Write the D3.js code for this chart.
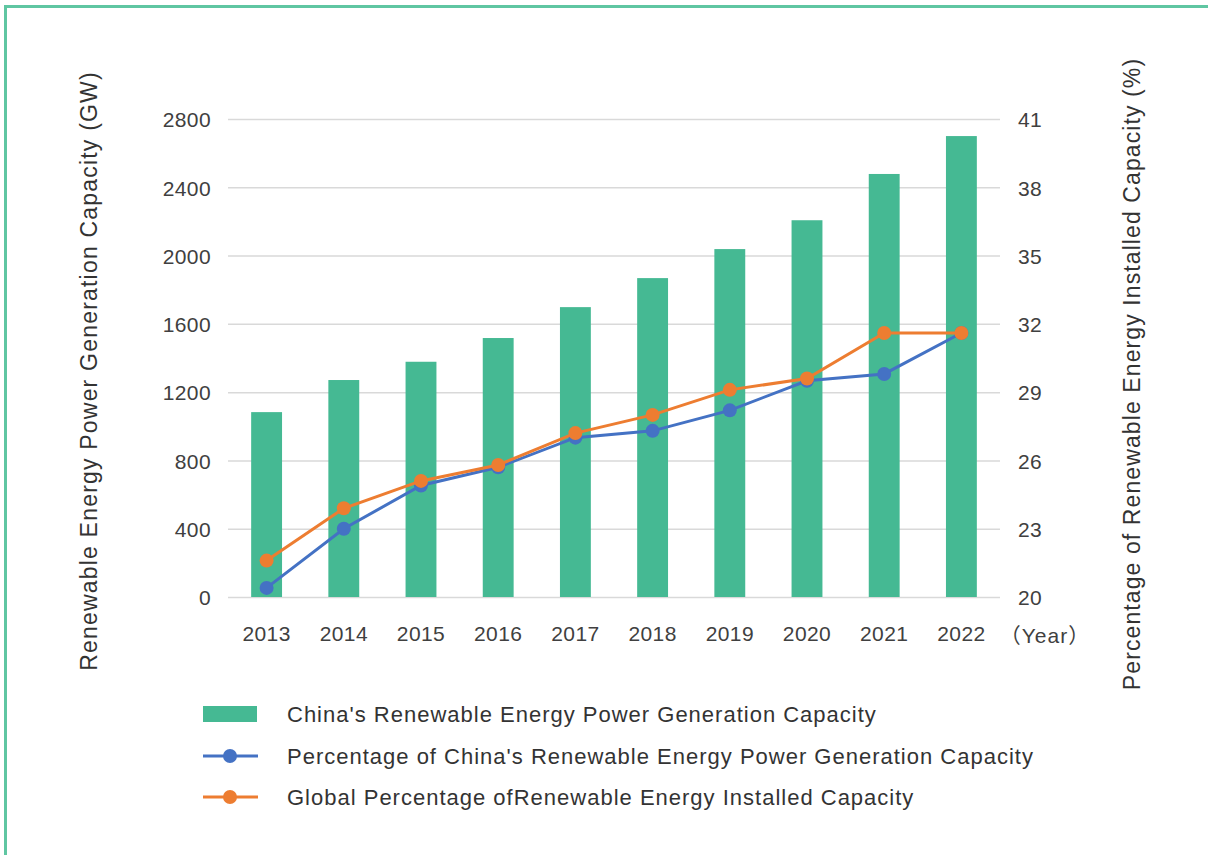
<!DOCTYPE html>
<html>
<head>
<meta charset="utf-8">
<script src="https://cdn.jsdelivr.net/npm/d3@7"></script>
<style>
  html, body { margin: 0; padding: 0; background: #fff; }
  svg { display: block; font-family: "Liberation Sans", Arial, "Noto Sans CJK SC", sans-serif; }
</style>
</head>
<body>
<svg id="chart" width="1208" height="855"></svg>
<script>
// data
var years = ["2013", "2014", "2015", "2016", "2017", "2018", "2019", "2020", "2021", "2022"];
var capacity = [1083, 1271, 1378, 1517, 1698, 1868, 2038, 2207, 2478, 2700];
var chinaPct = [20.4, 23.0, 24.9, 25.7, 27.0, 27.3, 28.2, 29.5, 29.8, 31.6];
var globalPct = [21.6, 23.9, 25.1, 25.8, 27.2, 28.0, 29.1, 29.6, 31.6, 31.6];
var leftTicks = [0, 400, 800, 1200, 1600, 2000, 2400, 2800];
var rightTicks = [20, 23, 26, 29, 32, 35, 38, 41];
var legendLabels = [
    "China's Renewable Energy Power Generation Capacity",
    "Percentage of China's Renewable Energy Power Generation Capacity",
    "Global Percentage ofRenewable Energy Installed Capacity"
];

var green = "#45b993", blue = "#4472c4", orange = "#ed7d31", txt = "#404040";

var svg = d3.select("#chart");

// frame
svg.append("rect")
    .attr("x", 5.5).attr("y", 6.5)
    .attr("width", 1300).attr("height", 1000)
    .attr("fill", "none")
    .attr("stroke", "#5fc6a2")
    .attr("stroke-width", 3);

var plotL = 228, plotR = 1000, plotT = 119, plotB = 597;

var x = d3.scaleBand().domain(years).range([plotL, plotR]).paddingInner(0.6).paddingOuter(0.3);
var xc = function (d) { return x(d) + x.bandwidth() / 2; };
var yL = d3.scaleLinear().domain([0, 2800]).range([plotB, plotT]);
var yR = d3.scaleLinear().domain([20, 41]).range([plotB, plotT]);

function styleTicks(g) {
    g.select(".domain").remove();
    g.selectAll("text")
        .attr("font-size", 21)
        .attr("letter-spacing", 0.4)
        .attr("fill", txt)
        .attr("font-family", null);
}

// grid
var gGrid = svg.append("g")
    .attr("transform", "translate(" + plotL + ",0)")
    .call(d3.axisLeft(yL).tickValues(leftTicks).tickSize(-(plotR - plotL)).tickFormat(""));
gGrid.select(".domain").remove();
gGrid.selectAll("line").attr("stroke", "#d9d9d9").attr("stroke-width", 1.5);

// left axis labels
svg.append("g")
    .attr("transform", "translate(" + plotL + ",1)")
    .call(d3.axisLeft(yL).tickValues(leftTicks).tickSize(0).tickPadding(17).tickFormat(d3.format("d")))
    .call(styleTicks);

// right axis labels
svg.append("g")
    .attr("transform", "translate(" + plotR + ",1)")
    .call(d3.axisRight(yR).tickValues(rightTicks).tickSize(0).tickPadding(18))
    .call(styleTicks);

// bars
svg.append("g").selectAll("rect")
    .data(capacity)
    .join("rect")
    .attr("x", function (d, i) { return x(years[i]); })
    .attr("y", function (d) { return yL(d); })
    .attr("width", x.bandwidth())
    .attr("height", function (d) { return plotB - yL(d); })
    .attr("fill", green);

// x axis labels
svg.append("g")
    .attr("transform", "translate(0," + plotB + ")")
    .call(d3.axisBottom(x).tickSize(0).tickPadding(29))
    .call(styleTicks);

svg.append("text")
    .attr("x", 1045).attr("y", 643)
    .attr("text-anchor", "middle")
    .attr("font-size", 21).attr("letter-spacing", 1).attr("fill", txt)
    .text("（Year）");

// lines
function drawSeries(vals, color) {
    var line = d3.line()
        .x(function (d, i) { return xc(years[i]); })
        .y(function (d) { return yR(d); });
    svg.append("path")
        .datum(vals)
        .attr("d", line)
        .attr("fill", "none")
        .attr("stroke", color)
        .attr("stroke-width", 3);
    svg.append("g").selectAll("circle")
        .data(vals)
        .join("circle")
        .attr("cx", function (d, i) { return xc(years[i]); })
        .attr("cy", function (d) { return yR(d); })
        .attr("r", 7)
        .attr("fill", color);
}
drawSeries(chinaPct, blue);
drawSeries(globalPct, orange);

// axis titles
svg.append("text")
    .attr("transform", "translate(97,371) rotate(-90)")
    .attr("text-anchor", "middle")
    .attr("font-size", 23).attr("letter-spacing", 1.2).attr("fill", "#333")
    .text("Renewable Energy Power Generation Capacity (GW)");

svg.append("text")
    .attr("transform", "translate(1140,374) rotate(-90)")
    .attr("text-anchor", "middle")
    .attr("font-size", 23).attr("letter-spacing", 1.1).attr("fill", "#333")
    .text("Percentage of Renewable Energy Installed Capacity (%)");

// legend
var lg = svg.append("g");
var rows = [714, 756, 797];
lg.append("rect")
    .attr("x", 203).attr("y", rows[0] - 8)
    .attr("width", 54).attr("height", 16)
    .attr("fill", green);
[blue, orange].forEach(function (c, i) {
    var yy = rows[i + 1];
    lg.append("line")
        .attr("x1", 203).attr("x2", 258)
        .attr("y1", yy).attr("y2", yy)
        .attr("stroke", c).attr("stroke-width", 3);
    lg.append("circle")
        .attr("cx", 230).attr("cy", yy).attr("r", 7)
        .attr("fill", c);
});
lg.selectAll("text.lab")
    .data(legendLabels)
    .join("text")
    .attr("class", "lab")
    .attr("x", 287)
    .attr("y", function (d, i) { return rows[i] + 8; })
    .attr("font-size", 22).attr("letter-spacing", 1).attr("fill", "#333")
    .text(function (d) { return d; });
</script>
</body>
</html>
